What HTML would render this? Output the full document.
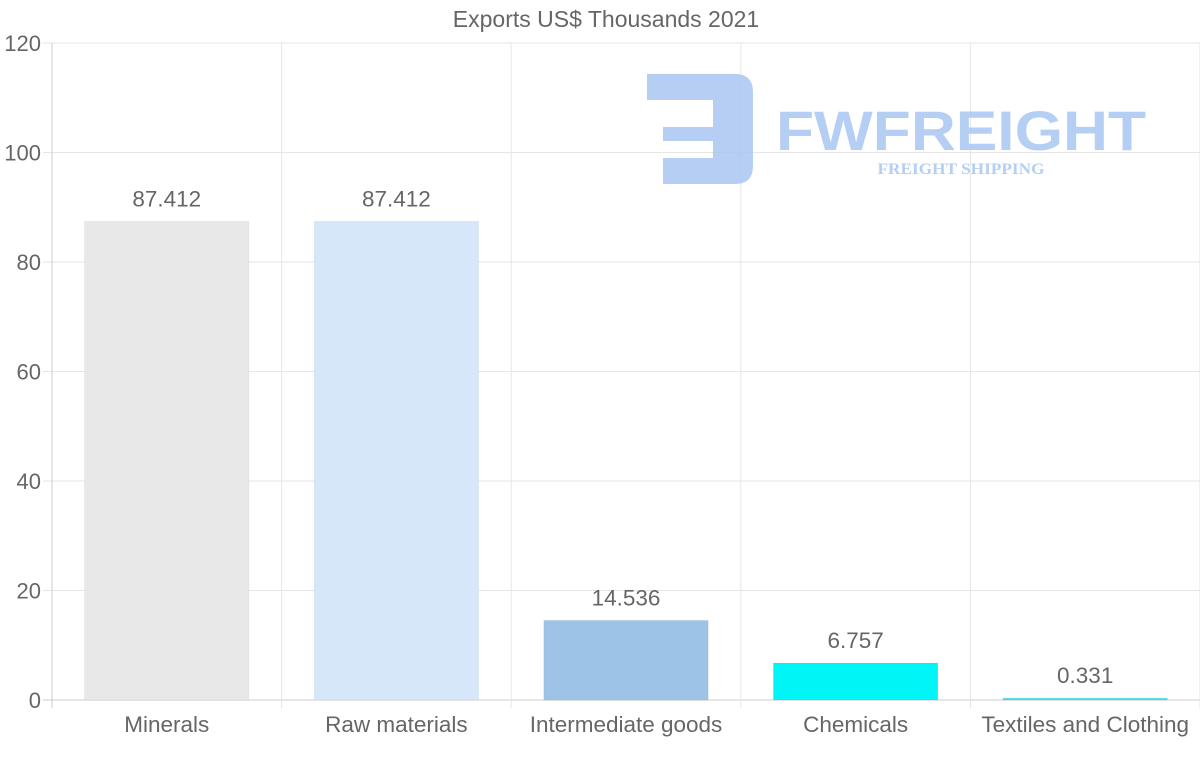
<!DOCTYPE html>
<html><head><meta charset="utf-8"><style>
body{margin:0;background:#fff;}
svg text{font-family:"Liberation Sans",sans-serif;}
</style></head><body>
<svg id="chart" width="1200" height="763" xmlns="http://www.w3.org/2000/svg">
<text x="606" y="27" text-anchor="middle" font-size="23" fill="#666">Exports US$ Thousands 2021</text>
<g id="grid"></g>
<g id="watermark" opacity="0.85">
<path d="M647 74 H735 Q753 74 753 92 V166 Q753 184 735 184 H663 V158 H713 V141 H663 V127 H713 V100 H647 Z" fill="#a9c6f1"/>
<text x="776" y="150" font-size="56" font-weight="bold" fill="#a9c6f1" textLength="370" lengthAdjust="spacingAndGlyphs">FWFREIGHT</text>
<text x="961" y="174" text-anchor="middle" font-size="16" font-weight="bold" fill="#a9c6f1" textLength="167" lengthAdjust="spacingAndGlyphs" style="font-family:'Liberation Serif',serif">FREIGHT SHIPPING</text>
</g>
<g id="bars"></g>
<g id="labels"></g>
</svg>
<script>
const categories=["Minerals","Raw materials","Intermediate goods","Chemicals","Textiles and Clothing"];
const values=[87.412,87.412,14.536,6.757,0.331];
const valueLabels=["87.412","87.412","14.536","6.757","0.331"];
const yTicks=[0,20,40,60,80,100,120];
const colors=["#e8e8e8","#d6e7f9","#9dc3e6","#00f6f6","#40e0e8"];
const NS="http://www.w3.org/2000/svg";
const L=52,R=1200,T=43,B=700,yMax=120;
const y=v=>B-(v/yMax)*(B-T);
const bw=(R-L)/categories.length;
const x=i=>L+i*bw;
function mk(tag,attrs,parent){const e=document.createElementNS(NS,tag);for(const k in attrs)e.setAttribute(k,attrs[k]);parent.appendChild(e);return e;}
const grid=document.getElementById('grid'),bars=document.getElementById('bars'),labels=document.getElementById('labels');
yTicks.forEach(t=>{
  const ln=mk('line',{x1:43,x2:R,y1:y(t),y2:y(t),stroke:t===0?'#ccc':'#e6e6e6'},grid);
  
  
  const tx=mk('text',{x:41,y:y(t)+8,'text-anchor':'end','font-size':22,fill:'#666'},grid);
  tx.textContent=t;
  
  
});
for(let i=0;i<=categories.length;i++){
  const ln=mk('line',{x1:x(i),x2:x(i),y1:T,y2:B+8,stroke:i===0?'#ccc':'#e6e6e6'},grid);
  
  
}
categories.forEach((c,i)=>{
  const w=bw*0.716, bx=x(i)+(bw-w)/2;
  const r=mk('rect',{x:bx,y:y(values[i]),width:w,height:B-y(values[i]),fill:colors[i],stroke:'rgba(0,0,0,0.04)'},bars);
  
  
  const v=mk('text',{x:x(i)+bw/2,y:y(values[i])-15,'text-anchor':'middle','font-size':22.5,fill:'#666'},labels);
  v.textContent=valueLabels[i];
  
  
  const t=mk('text',{x:x(i)+bw/2,y:732,'text-anchor':'middle','font-size':22.5,fill:'#666'},labels);
  t.textContent=c;
  
  
});
</script>
</body></html>
